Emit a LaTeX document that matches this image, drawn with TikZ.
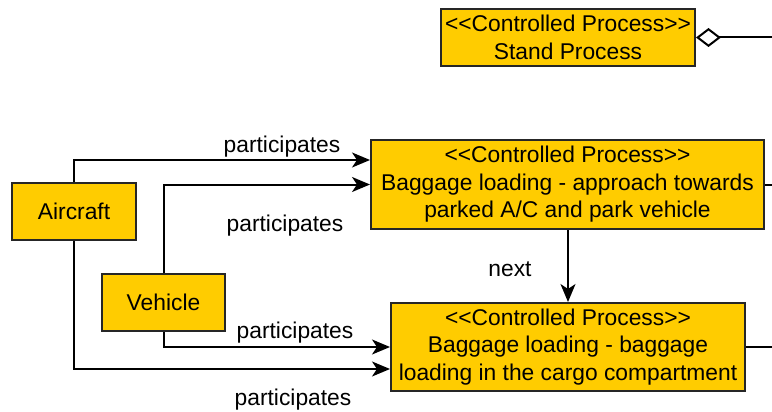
\documentclass[tikz,border=0pt]{standalone}
\usepackage{fontspec}
\setmainfont{Liberation Sans}
\usetikzlibrary{arrows.meta}
\definecolor{procfill}{HTML}{FFCC00}
\definecolor{edgeink}{HTML}{262626}
\newcommand{\stereo}[1]{<{}<#1>{}>}
\tikzset{
  every node/.style={font=\fontsize{22.8}{27.5}\selectfont, inner sep=0pt},
  block/.style={draw=edgeink, fill=procfill, line width=2pt, align=center},
  link/.style={draw=black, line width=2pt, -{Stealth[length=18pt,width=15pt,inset=5pt]}},
  plain/.style={draw=black, line width=2pt},
  lbl/.style={text=black}
}
\begin{document}
\begin{tikzpicture}[x=1pt,y=-1pt]
  \useasboundingbox (0,0) rectangle (772,412);
  \coordinate (rim) at (772,0);

  % process blocks
  \node[block, minimum width=254pt, minimum height=57pt] (stand) at (568,37.5)
    {\stereo{Controlled Process}\\Stand Process};
  \node[block, minimum width=393pt, minimum height=89pt] (approach) at (567.5,184.5)
    {\stereo{Controlled Process}\\Baggage loading - approach towards\\parked A/C and park vehicle};
  \node[block, minimum width=354pt, minimum height=88pt] (loading) at (568,347)
    {\stereo{Controlled Process}\\Baggage loading - baggage\\loading in the cargo compartment};

  % participants
  \node[block, minimum width=124pt, minimum height=57pt] (aircraft) at (74,211.5) {Aircraft};
  \node[block, minimum width=123pt, minimum height=57pt] (vehicle) at (163.5,302.5) {Vehicle};

  % lines leaving to the right
  \draw[plain, {Diamond[open,length=25pt,width=19pt]}-] (stand.east) -- (stand.east -| rim);
  \draw[plain] (approach.east) -- (approach.east -| rim);
  \draw[plain] (loading.east) -- (loading.east -| rim);

  % participation links
  \draw[link] (aircraft.north) |- ([yshift=24.5pt]approach.west);
  \draw[link] (vehicle.north) |- (approach.west);
  \draw[link] (vehicle.south) |- (loading.west);
  \draw[link] (aircraft.south) |- ([yshift=-22pt]loading.west);

  % sequence
  \draw[link] (approach.south -| loading.north) -- (loading.north);

  % labels
  \node[lbl] (p1) at (282,147) {participates};
  \node[lbl] (p2) at (285,226) {participates};
  \node[lbl] (p3) at (295,333) {participates};
  \node[lbl] (p4) at (293,400) {participates};
  \node[lbl] (nx) at (510,269) {next};
\end{tikzpicture}
\end{document}
